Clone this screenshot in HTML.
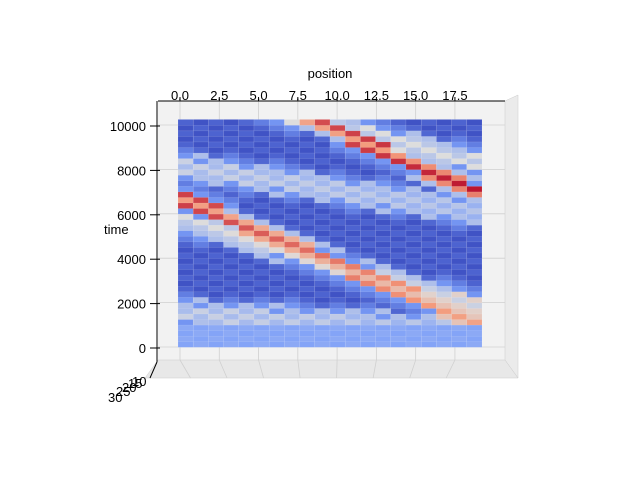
<!DOCTYPE html>
<html><head><meta charset="utf-8"><style>
body{margin:0;background:#fff;}
svg{display:block;font-family:"Liberation Sans","DejaVu Sans",sans-serif;}
</style></head><body>
<svg id="chart" width="640" height="480" viewBox="0 0 640 480">
<g id="panes">
<polygon points="158,101 505,101 505,360 158,360" fill="#f2f2f2"/>
<polygon points="505,101 518,95 518,378 505,360" fill="#ebebeb" stroke="#ccc" stroke-width="0.5"/>
<polygon points="158,360 505,360 518,378 145,378" fill="#e8e8e8" stroke="#ccc" stroke-width="0.5"/>
<g id="grid" stroke="#d0d0d0" stroke-width="0.8"></g>
</g>
<g id="surface"></g>
<g id="axes" font-size="13" fill="#000"></g>
</svg>
<script>
// data
const positions = [0,1,2,3,4,5,6,7,8,9,10,11,12,13,14,15,16,17,18,19];
const times = [0,250,500,750,1000,1250,1500,1750,2000,2250,2500,2750,3000,3250,3500,3750,4000,4250,4500,4750,5000,5250,5500,5750,6000,6250,6500,6750,7000,7250,7500,7750,8000,8250,8500,8750,9000,9250,9500,9750,10000,10250];
const xTicks = [0.0, 2.5, 5.0, 7.5, 10.0, 12.5, 15.0, 17.5];
const xTickLabels = ["0.0","2.5","5.0","7.5","10.0","12.5","15.0","17.5"];
const yTicks = [0, 2000, 4000, 6000, 8000, 10000];
const yTickLabels = ["0","2000","4000","6000","8000","10000"];
// wave fronts: time at position 0, time at position 19, amplitude at each end
const bandStart = [12600, 6500, 5600, 1400, 11600, 8000];
const bandEnd = [6900, 1000, 1700, 600, 8200, 6000];
const bandAmpStart = [0.8, 0.9, 0.5, 0.45, 0.5, 0.45];
const bandAmpEnd = [0.97, 0.72, 0.55, 0.4, 0.5, 0.4];

const X = p => 178 + p * 15.2;
const Y = t => 347 - t * 0.0222;
const NS = 'http://www.w3.org/2000/svg';

function coolwarm(v){
  v = Math.max(0, Math.min(1, v));
  const stops = [[0,[59,76,192]],[0.25,[124,159,249]],[0.5,[221,221,221]],[0.75,[244,154,123]],[1,[180,4,38]]];
  for (let i=0;i<stops.length-1;i++){
    const a=stops[i], b=stops[i+1];
    if (v<=b[0]){const f=(v-a[0])/(b[0]-a[0]);
      return 'rgb('+a[1].map((c,k)=>Math.round(c+(b[1][k]-c)*f)).join(',')+')';}
  }
  return 'rgb(180,4,38)';
}
function value(p, t, j){
  const chk = (j + p) % 2;
  let v = chk ? 0.02 : 0.07;
  if (t < 900) return 0.27 + (chk?0.02:0);
  for (let b=0;b<bandStart.length;b++){
    const tc = bandStart[b] + (bandEnd[b]-bandStart[b]) * p / 19;
    const amp = bandAmpStart[b] + (bandAmpEnd[b]-bandAmpStart[b]) * p / 19;
    const d = Math.abs(t - tc);
    if (d < 350) v = Math.max(v, amp * (chk ? 1 : 0.82));
    else if (d < 650) v = Math.max(v, chk ? 0.38 : 0.22);
    else if (d < 900) v = Math.max(v, chk ? 0.15 : 0.08);
  }
  return v;
}

// grid lines
const grid = document.getElementById('grid');
xTicks.forEach(p=>{
  const x = 180 + p*15.71;
  const l=document.createElementNS(NS,'line');
  l.setAttribute('x1',x);l.setAttribute('x2',x);l.setAttribute('y1',101);l.setAttribute('y2',360);
  grid.appendChild(l);
  const f=document.createElementNS(NS,'line');
  f.setAttribute('x1',x);f.setAttribute('x2',x-(x-330)*0.07);f.setAttribute('y1',360);f.setAttribute('y2',378);
  grid.appendChild(f);
});
yTicks.forEach(t=>{
  const l=document.createElementNS(NS,'line');
  l.setAttribute('x1',158);l.setAttribute('x2',505);l.setAttribute('y1',Y(t));l.setAttribute('y2',Y(t));
  grid.appendChild(l);
});

// surface cells
const surf = document.getElementById('surface');
for (let i=0;i<positions.length;i++){
  for (let j=0;j<times.length-1;j++){
    const p=positions[i], t=times[j];
    const r=document.createElementNS(NS,'rect');
    
    
    r.setAttribute('x',X(p));
    r.setAttribute('y',Y(times[j+1]));
    r.setAttribute('width',15.2);
    r.setAttribute('height',Y(t)-Y(times[j+1])+0.3);
    r.setAttribute('fill',coolwarm(value(p,t,j)));
    r.setAttribute('stroke','rgba(255,255,255,0.18)');
    r.setAttribute('stroke-width','0.5');
    surf.appendChild(r);
  }
}

// axes
const ax = document.getElementById('axes');
function line(x1,y1,x2,y2,name){
  const l=document.createElementNS(NS,'line');
  
  
  l.setAttribute('x1',x1);l.setAttribute('y1',y1);l.setAttribute('x2',x2);l.setAttribute('y2',y2);
  l.setAttribute('stroke','#000');l.setAttribute('stroke-width','1');
  ax.appendChild(l);
}
function text(x,y,s,anchor,name){
  const e=document.createElementNS(NS,'text');
  
  
  e.setAttribute('x',x);e.setAttribute('y',y);e.setAttribute('text-anchor',anchor);
  e.textContent=s;ax.appendChild(e);
}
line(158,101,505,101,'x-axis-line');
line(157,101,157,362,'y-axis-line');
line(157,362,150,378,'z-axis-line');
xTicks.forEach((p,i)=>{
  const x = 180 + p*15.71;
  line(x,101,x,97,'x-tick');
  text(x,100,xTickLabels[i],'middle','x-tick-label');
});
yTicks.forEach((t,i)=>{
  line(150,Y(t)+1,160,Y(t)+1,'y-tick');
  text(146,Y(t)+6,yTickLabels[i],'end','y-tick-label');
});
text(330,78,'position','middle','x-axis-title');
text(104,234,'time','start','y-axis-title');
text(108,402,'30','start','z-tick-label');
text(116,396,'25','start','z-tick-label');
text(122,392,'20','start','z-tick-label');
text(128,388,'15','start','z-tick-label');
text(132,386,'10','start','z-tick-label');
</script>
</body></html>
